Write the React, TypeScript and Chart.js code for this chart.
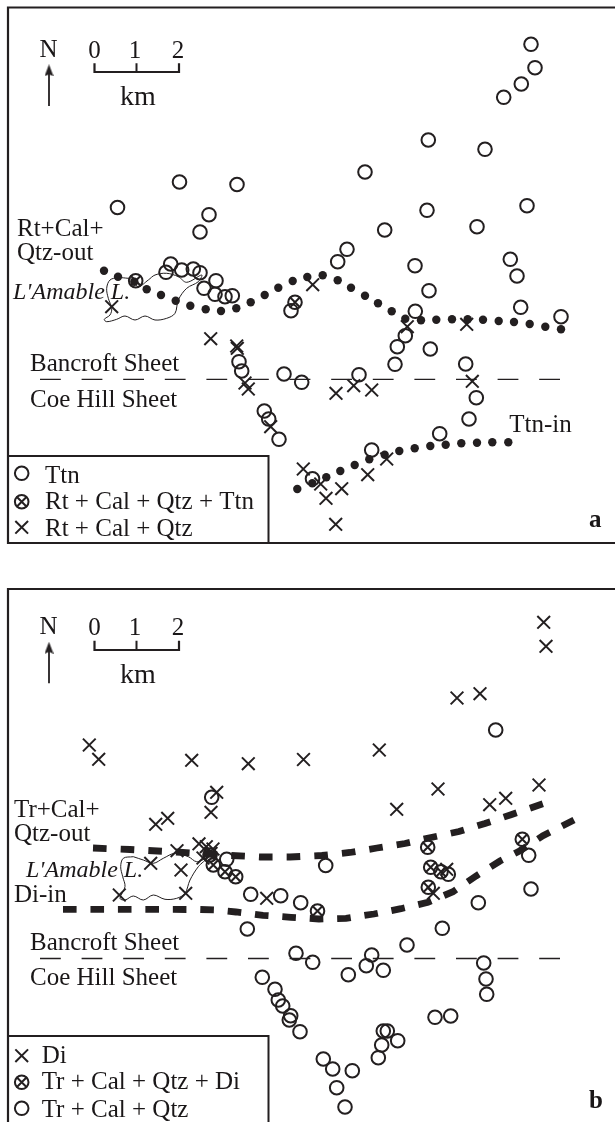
import React, { useEffect, useRef } from "react";
import { Chart, registerables } from "chart.js";

Chart.register(...registerables);

type P = [number, number];

const INK = "#231f20";
const SERIF = "'Liberation Serif', serif";

// ---- Panel a: map coordinates
const aTtn: P[] = [
  [179.5, 182], [237, 184.5], [117.5, 207.5], [209, 214.7], [200, 232],
  [170.7, 264], [166, 272.3], [181.7, 270], [193.3, 269], [200, 272.7],
  [216, 280.7], [204, 288.3], [215, 294.3], [225, 296.7], [232.3, 295.7],
  [291, 310.7], [239, 361.7], [241.7, 371], [284, 374], [301.7, 382.3],
  [264.3, 411], [268.7, 419], [279, 439.3], [312.5, 478.8],
  [531, 44.3], [535, 67.7], [521.3, 84], [503.7, 97.3], [428.3, 140], [485, 149.3],
  [365, 172], [427, 210.3], [527, 205.7], [384.7, 230], [477, 226.7], [347, 249.3],
  [337.7, 261.7], [415, 265.7], [510.3, 259.3], [517, 276], [429, 290.7],
  [520.7, 307.3], [561, 316.7], [415.3, 311.3], [405.3, 335.7], [397.3, 346.7],
  [430.3, 349], [395, 364.3], [465.7, 364], [359, 374.7], [476.3, 397.7],
  [469, 419], [439.7, 433.7], [371.7, 450],
];
const aBoth: P[] = [[135.7, 280.7], [295, 302.3]];
const aRtCalQtz: P[] = [
  [111.7, 306.7], [210.7, 338.7], [236.7, 346], [237.3, 348.3], [248.3, 389],
  [245, 383], [270.7, 426.7], [303.3, 469], [312.7, 284.7], [407.3, 326.7],
  [466.7, 324.3], [336, 393.3], [353.7, 385.7], [371.7, 390], [472.3, 381.3],
  [386.7, 459], [367.7, 474.7], [341.7, 488.7], [326, 498.3], [320.7, 484], [335.7, 524.3],
];
const aRtOutDots: P[] = [
  [104, 270.7], [118, 276.7], [134.3, 281.7], [146.7, 289.3], [161, 295], [175.7, 300.7],
  [190.3, 305.7], [205.7, 309.3], [221, 311], [236.3, 308.3], [250.7, 302.3], [264.7, 295],
  [278.3, 287.7], [292.7, 281], [307.3, 277], [322.7, 275.3], [337.7, 280.3], [351, 287.7],
  [365, 295.7], [378, 303.3], [391.7, 311.3], [405.3, 318.7], [421, 320.3], [436.3, 319.7],
  [452, 319.3], [467.7, 319.3], [483, 319.7], [498.7, 321], [514, 322], [529.7, 324],
  [545.3, 326.7], [561, 329.3],
];
const aTtnInDots: P[] = [
  [508.3, 442.3], [492.3, 442.3], [477, 442.7], [461.3, 443.3], [445.7, 444.7], [430.3, 446],
  [414.7, 448.3], [399.3, 451], [384.7, 454.7], [369.3, 459.3], [354.7, 465], [340.3, 471],
  [326.3, 477.3], [312.3, 483.3], [297.3, 489],
];
const aLake: P[] = [
  [128.3, 278.3], [118.3, 277.7], [110, 280], [106.7, 288.3], [108.3, 298.3], [111.7, 308.3],
  [110, 315], [104.3, 319.3], [106.7, 321.7], [116.7, 319.3], [125, 316], [135, 320], [145, 316],
  [155, 320], [166.7, 318.3], [175, 313.3], [178.3, 300], [186.7, 288.3], [198.3, 281.7],
  [201.7, 275], [186.7, 282.3], [178.3, 276.7], [166.7, 273.3], [155, 275], [148.3, 280],
  [138.3, 286.7], [133.3, 280], [128.3, 278.3],
];
const aLegendCircle: P[] = [[21.7, 473.3]];
const aLegendBoth: P[] = [[21.7, 501.7]];
const aLegendCross: P[] = [[21.7, 527.3]];

// ---- Panel b
const bDi: P[] = [
  [89.3, 745], [98.7, 759.3], [191.7, 760.3], [248.3, 763.7], [303.5, 759.5], [216.7, 792.3],
  [211, 812.3], [155.7, 824.3], [167.7, 818.3], [177, 850.7], [199, 843.8], [206.3, 846.7],
  [213, 849], [203, 858], [211, 853.3], [150.7, 863.3], [181, 870], [185.7, 893.3], [119.3, 895],
  [266.7, 898.3], [446.7, 869.3], [433.3, 893.3],
  [543.7, 622.3], [546, 646.3], [457, 698], [480, 693.7], [379.3, 750], [438, 789],
  [396.7, 809.3], [489.7, 804.7], [505.7, 798.3], [539, 785],
];
const bBoth: P[] = [
  [210, 855], [213.3, 865], [225, 871.7], [235.7, 876.7], [317.5, 911],
  [430.7, 867.3], [441, 871.7], [428.3, 887.3], [427.7, 847.3], [522.3, 839.3],
];
const bTrCalQtz: P[] = [
  [211.7, 797.3], [226.7, 859.3], [250.7, 894.3], [280.7, 895.7], [300.7, 902.7], [247.3, 929],
  [296, 953.3], [312.7, 962.3], [262.3, 977.3], [275, 989.3], [278.3, 1000], [282.7, 1006],
  [290.7, 1015.7], [289.3, 1020], [300, 1031.7], [323.3, 1059], [325.7, 865.5], [348.3, 974.7],
  [371.7, 955], [366.3, 965.7], [383.3, 970.3], [407, 945], [442.3, 928.3], [478.3, 902.7],
  [531, 889], [483.7, 963], [486, 979], [486.7, 994.3], [435, 1017.3], [450.7, 1016],
  [383.3, 1031], [387.3, 1031], [381.7, 1045], [397.7, 1040.7], [378.3, 1057.7], [332.7, 1069],
  [352.3, 1070.7], [336.7, 1087.7], [345, 1107], [448.3, 874.3], [528.7, 855.3], [495.7, 730],
];
const bTrOut: P[] = [
  [93, 848], [130, 849.5], [176, 852], [222, 855], [260, 857], [290, 857], [322, 855.5],
  [350, 852.5], [377, 848], [405, 843.5], [431, 837.5], [459, 831.5], [485, 823.5],
  [511, 814.7], [545, 803],
];
const bDiIn: P[] = [
  [63, 909.3], [200, 909.5], [215, 910], [236, 912], [263, 915.3], [291, 917.3], [319, 919],
  [346, 918.3], [374, 914], [401, 908.7], [428, 902.3], [453, 891.7], [476, 876], [500, 861],
  [520, 850.7], [543, 835.7], [574, 820],
];
const bLake: P[] = [
  [133.3, 856.7], [123.3, 858.3], [120.7, 866.7], [122.7, 876.7], [125, 886.7], [120, 898.3],
  [125, 900], [133.3, 896], [143.3, 900], [153.3, 895], [165, 899.3], [176.7, 898.3], [185, 893.3],
  [190, 880], [198.3, 866.7], [206.7, 858.3], [196.7, 861.7], [188.3, 856.7], [175, 853.3],
  [163.3, 858.3], [153.3, 863.3], [143.3, 860], [133.3, 856.7],
];
const bLegendCross: P[] = [[21.7, 1055.7]];
const bLegendBoth: P[] = [[21.7, 1082.3]];
const bLegendCircle: P[] = [[21.7, 1108.3]];

// ---- Captions: [text, x, baseline, font, centred]
type Label = [string, number, number, string, boolean?];
const ROMAN = `25px ${SERIF}`;
const ITALIC = `italic 24px ${SERIF}`;
const BOLD = `bold 25px ${SERIF}`;
const aLabels: Label[] = [
  ["N", 48.5, 56.7, ROMAN, true], ["0", 94.5, 58, ROMAN, true], ["1", 135, 58, ROMAN, true], ["2", 178, 58, ROMAN, true],
  ["km", 138, 105, `28px ${SERIF}`, true],
  ["Rt+Cal+", 17, 236, ROMAN], ["Qtz-out", 17, 260, ROMAN],
  ["L'Amable L.", 13, 299.3, ITALIC],
  ["Bancroft Sheet", 30, 370.7, ROMAN], ["Coe Hill Sheet", 30, 406.7, ROMAN],
  ["Ttn-in", 509.3, 432.3, ROMAN],
  ["Ttn", 45, 483.3, ROMAN], ["Rt + Cal + Qtz + Ttn", 45, 509.3, ROMAN], ["Rt + Cal + Qtz", 45, 536, ROMAN],
  ["a", 589, 526.7, BOLD],
];
const bLabels: Label[] = [
  ["N", 48.5, 634.3, ROMAN, true], ["0", 94.5, 634.5, ROMAN, true], ["1", 135, 634.5, ROMAN, true], ["2", 178, 634.5, ROMAN, true],
  ["km", 138, 682.7, `28px ${SERIF}`, true],
  ["Tr+Cal+", 14, 817.3, ROMAN], ["Qtz-out", 14, 840.7, ROMAN],
  ["L'Amable L.", 26, 876.7, ITALIC], ["Di-in", 14, 902.3, ROMAN],
  ["Bancroft Sheet", 30, 950, ROMAN], ["Coe Hill Sheet", 30, 985, ROMAN],
  ["Di", 41.7, 1063.3, ROMAN], ["Tr + Cal + Qtz + Di", 41.7, 1089.3, ROMAN], ["Tr + Cal + Qtz", 41.7, 1116.7, ROMAN],
  ["b", 589, 1107.7, BOLD],
];

const xy = (pts: P[]) => pts.map(([x, y]) => ({ x, y }));

const circles = (pts: P[]) => ({
  data: xy(pts), pointStyle: "circle", pointRadius: 6.8, borderColor: INK,
  pointBorderColor: INK, pointBorderWidth: 2, pointBackgroundColor: "transparent", showLine: false,
});
const crosses = (pts: P[]) => ({
  data: xy(pts), pointStyle: "crossRot", pointRadius: 9, pointBorderColor: INK,
  pointBorderWidth: 2, pointBackgroundColor: "transparent", showLine: false,
});
const innerCrosses = (pts: P[]) => ({ ...crosses(pts), pointRadius: 7.4 });
const dots = (pts: P[]) => ({
  data: xy(pts), pointStyle: "circle", pointRadius: 4.2, pointBorderWidth: 0,
  pointBackgroundColor: INK, showLine: false,
});
const stroke = (pts: P[], width: number, extra: object = {}) => ({
  data: xy(pts), showLine: true, pointRadius: 0, borderColor: INK, borderWidth: width,
  backgroundColor: "transparent", fill: false, ...extra,
});

function arrowHeadSprite() {
  const c = document.createElement("canvas");
  c.width = 9;
  c.height = 12;
  const g = c.getContext("2d")!;
  g.fillStyle = INK;
  g.beginPath();
  g.moveTo(4.5, 0);
  g.lineTo(9, 12);
  g.lineTo(4.5, 10);
  g.lineTo(0, 12);
  g.closePath();
  g.fill();
  return c;
}

const labelPlugin = (labels: Label[]) => ({
  id: "captions",
  afterDraw(chart: any) {
    const { ctx, scales } = chart;
    ctx.save();
    ctx.fillStyle = "#1a1718";
    ctx.textBaseline = "alphabetic";
    for (const [text, x, y, font, centred] of labels) {
      ctx.font = font;
      ctx.textAlign = centred ? "center" : "left";
      ctx.fillText(text, scales.x.getPixelForValue(x), scales.y.getPixelForValue(y));
    }
    ctx.restore();
  },
});

function MapPanel({ top, yMin, yMax, datasets, labels }: {
  top: number; yMin: number; yMax: number; datasets: any[]; labels: Label[];
}) {
  const ref = useRef<HTMLCanvasElement>(null);
  useEffect(() => {
    const chart = new Chart(ref.current!, {
      type: "scatter",
      data: { datasets },
      options: {
        animation: false,
        responsive: false,
        layout: { padding: 0, autoPadding: false },
        plugins: { legend: { display: false }, tooltip: { enabled: false }, title: { display: false } },
        scales: {
          x: { type: "linear", min: 0, max: 615, display: false },
          y: { type: "linear", min: yMin, max: yMax, reverse: true, display: false },
        },
      },
      plugins: [labelPlugin(labels)],
    } as any);
    return () => chart.destroy();
  }, []);
  return (
    <canvas
      ref={ref}
      width={615}
      height={yMax - yMin}
      style={{ position: "absolute", left: 0, top, width: 615, height: yMax - yMin, display: "block" }}
    />
  );
}

const north = (tip: number, tail: number): any[] => [
  stroke([[49, tail], [49, tip + 9]], 1.8),
  {
    data: xy([[49, tip + 6]]), pointStyle: arrowHeadSprite(), pointRadius: 6,
    pointBorderWidth: 0, showLine: false,
  },
];

const aDatasets: any[] = [
  stroke([[615, 7.5], [8, 7.5], [8, 543], [615, 543]], 2.2),
  stroke([[8, 456], [268.5, 456], [268.5, 543]], 2),
  ...north(64.3, 106),
  stroke([[94.5, 63.3], [94.5, 72], [179, 72], [179, 63.3]], 2.2),
  stroke([[136.5, 63.3], [136.5, 72]], 2),
  stroke([[40, 379.3], [561, 379.3]], 1.3, { borderDash: [20.8, 20.8] }),
  stroke(aLake, 1, { tension: 0.35 }),
  dots(aRtOutDots), dots(aTtnInDots),
  circles(aTtn), circles(aBoth), innerCrosses(aBoth), crosses(aRtCalQtz),
  circles(aLegendCircle), circles(aLegendBoth), innerCrosses(aLegendBoth), crosses(aLegendCross),
];

const bDatasets: any[] = [
  stroke([[615, 589], [8, 589], [8, 1122]], 2.2),
  stroke([[8, 1036], [268.5, 1036], [268.5, 1122]], 2),
  ...north(641.7, 683.3),
  stroke([[94.5, 640.7], [94.5, 650], [179, 650], [179, 640.7]], 2.2),
  stroke([[136.5, 640.7], [136.5, 650]], 2),
  stroke([[40, 958.5], [561, 958.5]], 1.3, { borderDash: [20.8, 20.8] }),
  stroke(bLake, 1, { tension: 0.35 }),
  stroke(bTrOut, 6.8, { borderDash: [13.6, 14.1] }),
  stroke(bDiIn, 6.8, { borderDash: [13.6, 13.86] }),
  circles(bTrCalQtz), circles(bBoth), innerCrosses(bBoth), crosses(bDi),
  crosses(bLegendCross), circles(bLegendBoth), innerCrosses(bLegendBoth), circles(bLegendCircle),
];

export default function App() {
  return (
    <>
      <MapPanel top={0} yMin={0} yMax={561} datasets={aDatasets} labels={aLabels} />
      <MapPanel top={561} yMin={561} yMax={1122} datasets={bDatasets} labels={bLabels} />
    </>
  );
}
